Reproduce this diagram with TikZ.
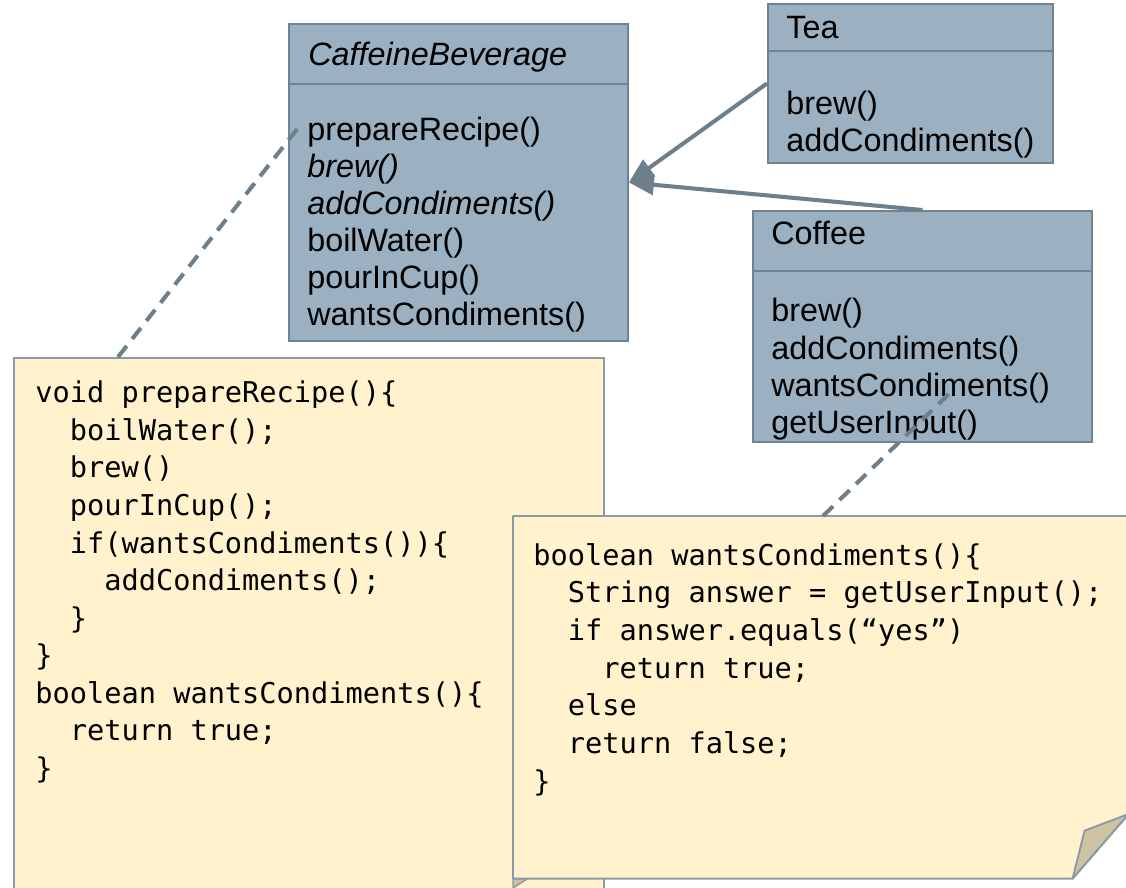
\documentclass[tikz,border=0pt]{standalone}
\usepackage{fontspec}
\newfontfamily\umlfont{Liberation Sans}
\setmonofont{DejaVu Sans Mono}
\usetikzlibrary{positioning, calc, arrows.meta}
\definecolor{classfill}{HTML}{9BB0C1}
\definecolor{classline}{HTML}{708391}
\definecolor{linkcolor}{HTML}{6D7F8B}
\definecolor{notefill}{HTML}{FFF2CC}
\definecolor{noteline}{HTML}{8A9BA7}
\definecolor{foldfill}{HTML}{CDC2A1}
\newcommand{\twosp}{\hphantom{xx}}

\begin{document}
\begin{tikzpicture}[
    x=0.02cm, y=-0.02cm,
    classbox/.style={rectangle, draw=classline, fill=classfill, line width=1.1pt, inner sep=0pt, anchor=north west},
    member/.style={anchor=base west, inner sep=0pt, font=\umlfont\fontsize{18.4}{21}\selectfont},
    note/.style={rectangle, draw=noteline, fill=notefill, line width=1.1pt, inner sep=0pt, anchor=north west},
    code/.style={anchor=base west, inner sep=0pt, font=\ttfamily\fontsize{16.3}{21}\selectfont},
    inherit/.style={-{Triangle[length=0.5cm, width=0.4cm]}, color=linkcolor, line width=2.3pt},
    link/.style={color=linkcolor, line width=2.3pt, dash pattern=on 0.28cm off 0.18cm}
  ]
  \useasboundingbox (0,0) rectangle (1126,888);
  \clip (0,0) rectangle (1126,888);

  % classes
  \node[classbox, minimum width=6.78cm, minimum height=6.34cm] (beverage) at (288,23) {};
  \node[classbox, minimum width=5.70cm, minimum height=3.18cm] (tea) at (767,3) {};
  \node[classbox, minimum width=6.78cm, minimum height=4.62cm] (coffee) at (752,210) {};
  \draw[classline, line width=1.1pt] ($(beverage.north west)+(0,61)$) -- ($(beverage.north east)+(0,61)$);
  \draw[classline, line width=1.1pt] ($(tea.north west)+(0,48)$) -- ($(tea.north east)+(0,48)$);
  \draw[classline, line width=1.1pt] ($(coffee.north west)+(0,61)$) -- ($(coffee.north east)+(0,61)$);

  \node[member] (beverage-name) at (308,66) {\itshape CaffeineBeverage};
  \foreach \m [count=\i from 0] in {prepareRecipe(), \textit{brew()}, \textit{addCondiments()}, boilWater(), pourInCup(), wantsCondiments()}
    \node[member] (beverage-\i) at (307,{141+37*\i}) {\m};

  \node[member] (tea-name) at (786,39) {Tea};
  \foreach \m [count=\i from 0] in {brew(), addCondiments()}
    \node[member] (tea-\i) at (786,{115+37*\i}) {\m};

  \node[member] (coffee-name) at (771,245) {Coffee};
  \foreach \m [count=\i from 0] in {brew(), addCondiments(), wantsCondiments(), getUserInput()}
    \node[member] (coffee-\i) at (771,{322+37.3*\i}) {\m};

  \draw[inherit] (tea.west) -- (beverage.east);
  \draw[inherit] (coffee.north) -- (beverage.east);

  % notes
  \node[note, minimum width=11.8cm, minimum height=10.9cm] (recipe) at (13,357) {};
  \foreach \c [count=\i from 0] in {void prepareRecipe()\{, \twosp boilWater();, \twosp brew(), \twosp pourInCup();,
      \twosp if(wantsCondiments())\{, \twosp\twosp addCondiments();, \twosp\}, \}, boolean wantsCondiments()\{,
      \twosp return true;, \}}
    \node[code] (recipe-\i) at (35,{403+37.5*\i}) {\c};

  \filldraw[fill=foldfill, draw=noteline, line width=0.8pt] (513,879) -- (527,879) -- (513,888) -- cycle;

  \node[inner sep=0pt, anchor=north west, minimum width=12.3cm, minimum height=7.24cm] (answer) at (513,516) {};
  \filldraw[fill=notefill, draw=noteline, line width=1.1pt, line join=round]
    (answer.north west) -- (answer.north east) -- ($(answer.north east)+(0,298)$)
    -- ($(answer.south east)+(-56,0)$) -- (answer.south west) -- cycle;
  \filldraw[fill=foldfill, draw=noteline, line width=1.1pt, line join=round]
    ($(answer.south east)+(-56,0)$) -- ($(answer.south east)+(-44,-48)$) -- ($(answer.north east)+(0,298)$) -- cycle;
  \foreach \c [count=\i from 0] in {boolean wantsCondiments()\{, \twosp String answer = getUserInput();,
      \twosp if answer.equals(“yes”), \twosp\twosp return true;, \twosp else, \twosp return false;, \}}
    \node[code] (answer-\i) at (533,{565+37.7*\i}) {\c};

  % note links
  \draw[link] ($(recipe.north west)+(105,0)$) -- ($(beverage.north west)+(10,105)$);
  \draw[link] ($(answer.north west)+(310,0)$) -- ($(coffee.north west)+(203,178)$);
\end{tikzpicture}
\end{document}
